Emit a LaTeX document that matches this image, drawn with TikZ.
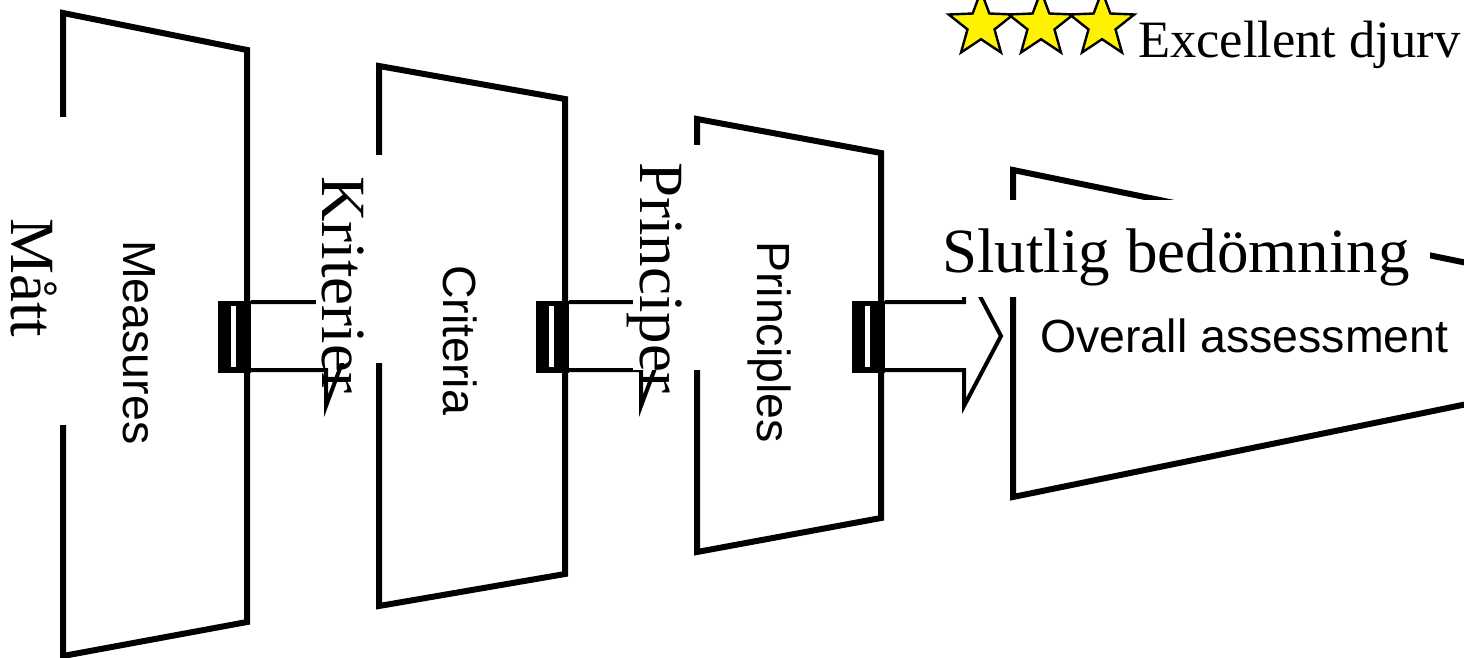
\documentclass[tikz,border=0pt]{standalone}
\usepackage{fontspec}
\setmainfont{Liberation Serif}
\setsansfont{Liberation Sans}
\newcommand\blockarr[4]{%
  \draw[arrowline] (#2,-302) -- (#3,-302) -- (#3,-266) -- (#4,-336) -- (#3,-406) -- (#3,-370) -- (#2,-370);
  \fill (#1,-301) rectangle ++(33,-72);
  \fill[white] (#1+13,-306) rectangle ++(5,-61);
}
\newcommand\mystar[2]{%
  \draw[starstyle] (#1,#2) +(90:34) -- +(126:14.2) -- +(162:34) -- +(198:14.2) -- +(234:34) -- +(270:14.2) -- +(306:34) -- +(342:14.2) -- +(18:34) -- +(54:14.2) -- cycle;
}
\begin{document}
\begin{tikzpicture}[x=1pt,y=1pt,
  frame/.style={line width=6pt, line join=miter},
  arrowline/.style={line width=4pt, fill=white, line join=miter},
  mask/.style={fill=white},
  bigserif/.style={inner sep=0, font=\fontsize{63}{70}\selectfont},
  smallsans/.style={inner sep=0, font=\sffamily\fontsize{46.5}{52}\selectfont},
  starstyle/.style={draw=black, line width=2.4pt, fill=yellow, line join=miter}
]
\useasboundingbox (0,0) rectangle (1464,-658);
\clip (0,0) rectangle (1464,-658);
% frustum panels
\draw[frame] (63,-13) -- (247,-50) -- (247,-622) -- (63,-656) -- cycle;
\draw[frame] (379,-66) -- (565,-99) -- (565,-574) -- (379,-606) -- cycle;
\draw[frame] (697,-119) -- (881,-153) -- (881,-518) -- (697,-552) -- cycle;
\draw[frame] (1013,-170) -- (1560,-282) -- (1560,-385) -- (1013,-497) -- cycle;
% block arrows
\blockarr{218}{251}{326}{352}
\blockarr{536}{569}{641}{667}
\blockarr{852}{885}{964}{1001}
% masks behind labels
\fill[mask] (0,-117) rectangle (69,-425);
\fill[mask] (316,-155) rectangle (384,-363);
\fill[mask] (633,-145) rectangle (702,-370);
\fill[mask] (940,-200) rectangle (1430,-297);
% stars
\mystar{981}{-25}
\mystar{1041}{-25}
\mystar{1102}{-25}
% labels
\node[inner sep=0, font=\fontsize{52.5}{60}\selectfont, anchor=base west] (exc) at (1138,-58) {Excellent djurv};
\node[bigserif, rotate=-90, anchor=base west] (matt) at (12,-218) {Mått};
\node[bigserif, rotate=-90, anchor=base west] (krit) at (322,-176) {Kriterier};
\node[bigserif, rotate=-90, anchor=base west] (princ) at (640,-162) {Principer};
\node[bigserif, anchor=base west] (slut) at (942,-272) {Slutlig bedömning};
\node[smallsans, anchor=base west] (over) at (1040,-352) {Overall assessment};
\node[smallsans, rotate=-90, anchor=base west] (meas) at (123,-240) {Measures};
\node[smallsans, rotate=-90, anchor=base west] (crit) at (443,-265) {Criteria};
\node[smallsans, rotate=-90, anchor=base west] (prl) at (757,-241) {Principles};
\end{tikzpicture}
\end{document}
